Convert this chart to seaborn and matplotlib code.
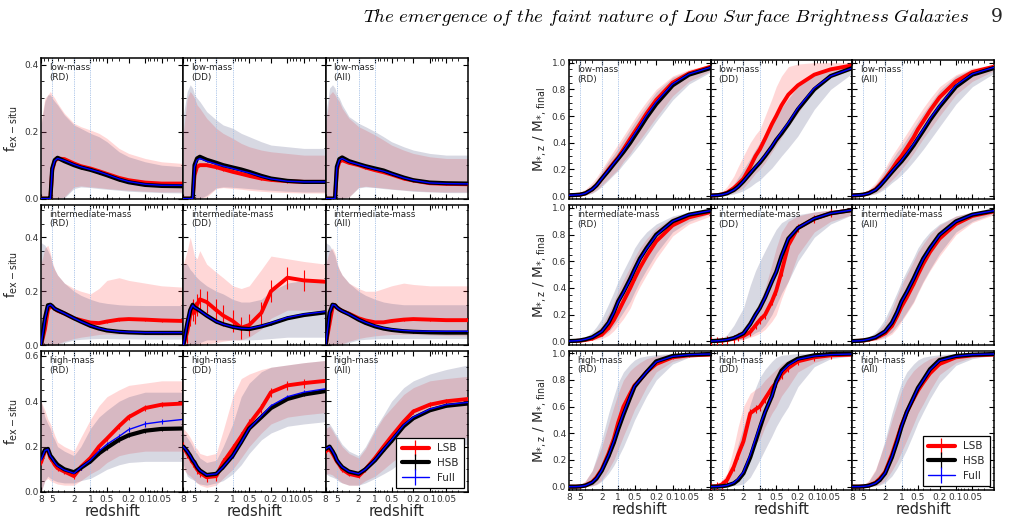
"""
Ex-situ fraction and stellar mass assembly of LSB / HSB galaxies vs redshift.
Two 3x3 grids: rows = mass bins, columns = RD / DD / All samples.
"""

import numpy as np
import matplotlib
matplotlib.use("Agg")
import matplotlib.pyplot as plt
from matplotlib.lines import Line2D
from matplotlib.ticker import FixedLocator, MultipleLocator, LogLocator, NullFormatter
import seaborn as sns

# ---------------------------------------------------------------- data
z_fex = [8, 6.8, 6, 5.4, 5, 4.5, 4, 3, 2, 1.5, 1, 0.7, 0.5, 0.3, 0.2, 0.1, 0.05, 0.02]
z_mass = [8, 6, 5, 4, 3, 2.5, 2, 1.5, 1.2, 1, 0.8, 0.6, 0.5, 0.4, 0.3, 0.2, 0.1, 0.05, 0.02]

xtick_values = [8, 5, 2, 1, 0.5, 0.2, 0.1, 0.05]
xtick_labels = ['8', '5', '2', '1', '0.5', '0.2', '0.1', '0.05']
ref_redshifts = [5, 2, 1]

mass_bins = ['low-mass', 'intermediate-mass', 'high-mass']
samples = ['RD', 'DD', 'All']
legend_labels = ['LSB', 'HSB', 'Full']

# --- f_ex-situ, low-mass
fex_low_rd_lsb = [0, 0, 0, 0, 0.085, 0.112, 0.12, 0.118, 0.105, 0.097, 0.09, 0.082, 0.074, 0.062, 0.055, 0.048, 0.045, 0.045]
fex_low_rd_hsb = [0, 0, 0, 0, 0.09, 0.115, 0.122, 0.112, 0.1, 0.093, 0.086, 0.078, 0.07, 0.057, 0.049, 0.041, 0.038, 0.037]
fex_low_rd_full = [0, 0, 0, 0, 0.088, 0.113, 0.12, 0.114, 0.102, 0.095, 0.087, 0.08, 0.072, 0.059, 0.051, 0.043, 0.04, 0.04]
fex_low_rd_lsb_lo = [0, 0, 0, 0, 0, 0, 0, 0.005, 0.035, 0.038, 0.035, 0.033, 0.03, 0.027, 0.025, 0.022, 0.02, 0.02]
fex_low_rd_lsb_hi = [0.23, 0.3, 0.31, 0.32, 0.31, 0.3, 0.285, 0.255, 0.225, 0.215, 0.205, 0.195, 0.18, 0.15, 0.135, 0.12, 0.11, 0.105]
fex_low_rd_hsb_lo = [0, 0, 0, 0, 0, 0, 0, 0.002, 0.03, 0.035, 0.033, 0.03, 0.028, 0.025, 0.022, 0.02, 0.018, 0.017]
fex_low_rd_hsb_hi = [0.22, 0.29, 0.31, 0.31, 0.3, 0.29, 0.28, 0.25, 0.22, 0.21, 0.195, 0.185, 0.17, 0.14, 0.125, 0.11, 0.1, 0.095]

fex_low_dd_lsb = [0, 0, 0, 0, 0.07, 0.095, 0.1, 0.1, 0.094, 0.088, 0.08, 0.074, 0.068, 0.06, 0.056, 0.052, 0.05, 0.05]
fex_low_dd_hsb = [0, 0, 0, 0, 0.1, 0.12, 0.125, 0.116, 0.107, 0.1, 0.093, 0.087, 0.08, 0.068, 0.06, 0.053, 0.05, 0.05]
fex_low_dd_full = [0, 0, 0, 0, 0.095, 0.115, 0.12, 0.112, 0.103, 0.097, 0.09, 0.083, 0.077, 0.066, 0.059, 0.052, 0.05, 0.05]
fex_low_dd_lsb_lo = [0, 0, 0, 0, 0, 0, 0, 0.005, 0.03, 0.033, 0.03, 0.028, 0.025, 0.022, 0.02, 0.018, 0.017, 0.017]
fex_low_dd_lsb_hi = [0.2, 0.3, 0.32, 0.31, 0.3, 0.28, 0.27, 0.24, 0.21, 0.195, 0.18, 0.165, 0.155, 0.145, 0.14, 0.135, 0.13, 0.13]
fex_low_dd_hsb_lo = [0, 0, 0, 0, 0, 0, 0, 0.01, 0.032, 0.035, 0.034, 0.032, 0.03, 0.027, 0.025, 0.022, 0.02, 0.02]
fex_low_dd_hsb_hi = [0.25, 0.32, 0.34, 0.33, 0.31, 0.3, 0.29, 0.26, 0.235, 0.22, 0.21, 0.195, 0.185, 0.17, 0.16, 0.155, 0.15, 0.15]

fex_low_all_lsb = [0, 0, 0, 0, 0.085, 0.11, 0.115, 0.107, 0.1, 0.093, 0.085, 0.079, 0.072, 0.06, 0.054, 0.046, 0.044, 0.043]
fex_low_all_hsb = [0, 0, 0, 0, 0.095, 0.118, 0.123, 0.112, 0.103, 0.097, 0.09, 0.084, 0.075, 0.063, 0.055, 0.048, 0.046, 0.045]
fex_low_all_full = [0, 0, 0, 0, 0.092, 0.115, 0.12, 0.11, 0.102, 0.096, 0.088, 0.082, 0.074, 0.062, 0.055, 0.047, 0.045, 0.044]
fex_low_all_lsb_lo = [0, 0, 0, 0, 0, 0, 0, 0.005, 0.034, 0.037, 0.034, 0.032, 0.029, 0.026, 0.024, 0.021, 0.02, 0.02]
fex_low_all_lsb_hi = [0.22, 0.31, 0.32, 0.31, 0.3, 0.29, 0.27, 0.24, 0.215, 0.205, 0.19, 0.175, 0.16, 0.145, 0.135, 0.125, 0.12, 0.12]
fex_low_all_hsb_lo = [0, 0, 0, 0, 0, 0, 0, 0.005, 0.032, 0.035, 0.033, 0.03, 0.028, 0.025, 0.022, 0.02, 0.018, 0.018]
fex_low_all_hsb_hi = [0.25, 0.33, 0.34, 0.33, 0.31, 0.3, 0.28, 0.245, 0.225, 0.215, 0.2, 0.185, 0.17, 0.155, 0.145, 0.135, 0.13, 0.13]

# --- f_ex-situ, intermediate-mass
fex_int_rd_lsb = [0, 0.06, 0.13, 0.148, 0.142, 0.135, 0.128, 0.118, 0.1, 0.093, 0.084, 0.082, 0.088, 0.095, 0.097, 0.095, 0.092, 0.09]
fex_int_rd_hsb = [0, 0.1, 0.148, 0.15, 0.145, 0.135, 0.13, 0.118, 0.1, 0.088, 0.072, 0.062, 0.055, 0.05, 0.048, 0.046, 0.046, 0.046]
fex_int_rd_full = [0, 0.095, 0.145, 0.15, 0.145, 0.135, 0.13, 0.118, 0.1, 0.088, 0.073, 0.063, 0.056, 0.051, 0.049, 0.047, 0.047, 0.047]
fex_int_rd_lsb_lo = [0, 0, 0, 0, 0, 0, 0.005, 0.015, 0.025, 0.03, 0.035, 0.04, 0.042, 0.04, 0.04, 0.038, 0.036, 0.035]
fex_int_rd_lsb_hi = [0.3, 0.36, 0.37, 0.34, 0.31, 0.28, 0.26, 0.23, 0.21, 0.2, 0.19, 0.21, 0.24, 0.25, 0.24, 0.23, 0.22, 0.215]
fex_int_rd_hsb_lo = [0, 0, 0, 0, 0, 0, 0, 0.01, 0.02, 0.022, 0.024, 0.025, 0.025, 0.024, 0.024, 0.023, 0.023, 0.023]
fex_int_rd_hsb_hi = [0.38, 0.37, 0.35, 0.33, 0.3, 0.28, 0.26, 0.23, 0.2, 0.185, 0.17, 0.16, 0.155, 0.15, 0.148, 0.147, 0.147, 0.147]

fex_int_dd_lsb = [0, 0.05, 0.11, 0.13, 0.12, 0.15, 0.17, 0.16, 0.13, 0.11, 0.09, 0.065, 0.075, 0.12, 0.2, 0.25, 0.24, 0.235]
fex_int_dd_hsb = [0, 0.08, 0.13, 0.15, 0.14, 0.135, 0.128, 0.11, 0.088, 0.078, 0.068, 0.062, 0.06, 0.07, 0.08, 0.1, 0.112, 0.122]
fex_int_dd_full = [0, 0.08, 0.13, 0.148, 0.14, 0.135, 0.128, 0.11, 0.088, 0.078, 0.068, 0.063, 0.062, 0.072, 0.083, 0.103, 0.115, 0.125]
fex_int_dd_lsb_lo = [0, 0, 0, 0, 0, 0, 0, 0.005, 0.01, 0.015, 0.02, 0.02, 0.03, 0.06, 0.1, 0.13, 0.13, 0.13]
fex_int_dd_lsb_hi = [0.3, 0.35, 0.4, 0.36, 0.33, 0.32, 0.35, 0.3, 0.27, 0.25, 0.22, 0.21, 0.22, 0.28, 0.33, 0.32, 0.31, 0.3]
fex_int_dd_hsb_lo = [0, 0, 0, 0, 0, 0, 0.01, 0.02, 0.02, 0.02, 0.02, 0.02, 0.02, 0.022, 0.025, 0.03, 0.03, 0.03]
fex_int_dd_hsb_hi = [0.3, 0.3, 0.28, 0.27, 0.26, 0.25, 0.24, 0.22, 0.2, 0.19, 0.17, 0.16, 0.16, 0.17, 0.2, 0.23, 0.24, 0.24]

fex_int_all_lsb = [0, 0.08, 0.14, 0.148, 0.14, 0.133, 0.127, 0.117, 0.1, 0.092, 0.085, 0.085, 0.09, 0.095, 0.097, 0.095, 0.093, 0.093]
fex_int_all_hsb = [0, 0.12, 0.15, 0.148, 0.14, 0.133, 0.127, 0.115, 0.095, 0.083, 0.07, 0.062, 0.057, 0.052, 0.05, 0.048, 0.047, 0.047]
fex_int_all_full = [0, 0.12, 0.15, 0.148, 0.14, 0.133, 0.127, 0.115, 0.096, 0.085, 0.072, 0.064, 0.059, 0.055, 0.053, 0.052, 0.052, 0.052]
fex_int_all_lsb_lo = [0, 0, 0, 0, 0, 0, 0.005, 0.015, 0.025, 0.03, 0.035, 0.038, 0.04, 0.04, 0.04, 0.038, 0.036, 0.035]
fex_int_all_lsb_hi = [0.3, 0.35, 0.36, 0.34, 0.31, 0.28, 0.26, 0.23, 0.21, 0.2, 0.2, 0.21, 0.22, 0.23, 0.225, 0.22, 0.22, 0.22]
fex_int_all_hsb_lo = [0, 0, 0, 0, 0, 0, 0, 0.01, 0.02, 0.022, 0.024, 0.025, 0.025, 0.025, 0.025, 0.025, 0.025, 0.025]
fex_int_all_hsb_hi = [0.38, 0.37, 0.35, 0.33, 0.3, 0.28, 0.26, 0.23, 0.2, 0.185, 0.17, 0.16, 0.155, 0.15, 0.15, 0.15, 0.15, 0.15]

# --- f_ex-situ, high-mass
fex_high_rd_lsb = [0.13, 0.18, 0.185, 0.15, 0.14, 0.12, 0.105, 0.09, 0.07, 0.11, 0.15, 0.2, 0.235, 0.29, 0.33, 0.37, 0.385, 0.39]
fex_high_rd_hsb = [0.15, 0.185, 0.19, 0.16, 0.15, 0.135, 0.12, 0.1, 0.087, 0.106, 0.135, 0.17, 0.195, 0.23, 0.25, 0.27, 0.278, 0.28]
fex_high_rd_full = [0.14, 0.183, 0.188, 0.158, 0.148, 0.13, 0.115, 0.097, 0.082, 0.108, 0.14, 0.18, 0.21, 0.245, 0.275, 0.3, 0.31, 0.32]
fex_high_rd_lsb_lo = [0.0, 0.05, 0.06, 0.05, 0.045, 0.04, 0.035, 0.03, 0.03, 0.05, 0.08, 0.1, 0.13, 0.16, 0.17, 0.18, 0.18, 0.18]
fex_high_rd_lsb_hi = [0.4, 0.36, 0.32, 0.3, 0.28, 0.25, 0.22, 0.2, 0.18, 0.24, 0.32, 0.38, 0.42, 0.45, 0.47, 0.48, 0.49, 0.49]
fex_high_rd_hsb_lo = [0.0, 0.05, 0.07, 0.06, 0.055, 0.05, 0.045, 0.04, 0.04, 0.05, 0.06, 0.08, 0.1, 0.12, 0.13, 0.135, 0.135, 0.135]
fex_high_rd_hsb_hi = [0.4, 0.33, 0.3, 0.28, 0.25, 0.23, 0.2, 0.18, 0.16, 0.2, 0.28, 0.33, 0.36, 0.4, 0.42, 0.44, 0.44, 0.44]

fex_high_dd_lsb = [0.2, 0.17, 0.15, 0.13, 0.12, 0.1, 0.085, 0.065, 0.07, 0.13, 0.19, 0.245, 0.3, 0.37, 0.44, 0.47, 0.48, 0.49]
fex_high_dd_hsb = [0.2, 0.18, 0.16, 0.14, 0.13, 0.11, 0.095, 0.075, 0.08, 0.11, 0.16, 0.22, 0.28, 0.33, 0.37, 0.41, 0.43, 0.445]
fex_high_dd_full = [0.2, 0.18, 0.16, 0.14, 0.13, 0.11, 0.095, 0.075, 0.08, 0.11, 0.16, 0.22, 0.28, 0.335, 0.38, 0.42, 0.44, 0.455]
fex_high_dd_lsb_lo = [0.1, 0.08, 0.07, 0.06, 0.05, 0.04, 0.03, 0.02, 0.03, 0.06, 0.1, 0.15, 0.2, 0.26, 0.3, 0.33, 0.34, 0.35]
fex_high_dd_lsb_hi = [0.28, 0.26, 0.24, 0.22, 0.2, 0.19, 0.17, 0.16, 0.17, 0.27, 0.42, 0.5, 0.52, 0.54, 0.55, 0.56, 0.57, 0.58]
fex_high_dd_hsb_lo = [0.12, 0.07, 0.06, 0.055, 0.05, 0.04, 0.035, 0.03, 0.04, 0.05, 0.08, 0.12, 0.17, 0.23, 0.26, 0.29, 0.3, 0.31]
fex_high_dd_hsb_hi = [0.26, 0.24, 0.22, 0.2, 0.18, 0.17, 0.15, 0.13, 0.14, 0.2, 0.3, 0.42, 0.48, 0.53, 0.55, 0.56, 0.57, 0.58]

fex_high_all_lsb = [0.18, 0.19, 0.17, 0.15, 0.135, 0.12, 0.1, 0.08, 0.07, 0.1, 0.15, 0.2, 0.245, 0.31, 0.355, 0.385, 0.4, 0.41]
fex_high_all_hsb = [0.19, 0.2, 0.18, 0.16, 0.14, 0.125, 0.11, 0.09, 0.08, 0.1, 0.14, 0.185, 0.225, 0.29, 0.325, 0.36, 0.38, 0.39]
fex_high_all_full = [0.19, 0.2, 0.18, 0.16, 0.14, 0.125, 0.11, 0.09, 0.08, 0.1, 0.142, 0.188, 0.23, 0.295, 0.33, 0.365, 0.385, 0.395]
fex_high_all_lsb_lo = [0.08, 0.08, 0.075, 0.065, 0.06, 0.05, 0.04, 0.03, 0.03, 0.05, 0.07, 0.1, 0.13, 0.17, 0.2, 0.22, 0.23, 0.24]
fex_high_all_lsb_hi = [0.28, 0.29, 0.27, 0.25, 0.24, 0.22, 0.2, 0.17, 0.15, 0.19, 0.27, 0.33, 0.37, 0.43, 0.46, 0.49, 0.5, 0.51]
fex_high_all_hsb_lo = [0.08, 0.07, 0.065, 0.06, 0.055, 0.045, 0.04, 0.03, 0.03, 0.04, 0.06, 0.08, 0.1, 0.14, 0.17, 0.19, 0.2, 0.21]
fex_high_all_hsb_hi = [0.3, 0.3, 0.28, 0.26, 0.25, 0.23, 0.21, 0.18, 0.16, 0.2, 0.28, 0.34, 0.4, 0.46, 0.49, 0.52, 0.54, 0.56]

# --- M*,z / M*,final, low-mass
mass_low_rd_lsb = [0.005, 0.008, 0.01, 0.02, 0.05, 0.08, 0.13, 0.2, 0.25, 0.29, 0.35, 0.43, 0.48, 0.54, 0.62, 0.72, 0.85, 0.92, 0.97]
mass_low_rd_hsb = [0.005, 0.008, 0.01, 0.02, 0.05, 0.08, 0.13, 0.19, 0.24, 0.28, 0.33, 0.4, 0.45, 0.51, 0.59, 0.69, 0.83, 0.91, 0.96]
mass_low_rd_full = [0.005, 0.008, 0.01, 0.02, 0.05, 0.08, 0.13, 0.195, 0.245, 0.285, 0.34, 0.415, 0.465, 0.525, 0.605, 0.705, 0.84, 0.915, 0.965]
mass_low_rd_lsb_lo = [0, 0, 0.004, 0.008, 0.025, 0.045, 0.08, 0.13, 0.17, 0.2, 0.26, 0.32, 0.37, 0.42, 0.49, 0.59, 0.75, 0.86, 0.94]
mass_low_rd_lsb_hi = [0.01, 0.015, 0.03, 0.05, 0.1, 0.14, 0.2, 0.28, 0.34, 0.39, 0.45, 0.53, 0.58, 0.64, 0.71, 0.8, 0.9, 0.95, 0.985]
mass_low_rd_hsb_lo = [0, 0, 0.003, 0.006, 0.02, 0.04, 0.07, 0.12, 0.16, 0.19, 0.24, 0.3, 0.34, 0.39, 0.46, 0.56, 0.72, 0.84, 0.93]
mass_low_rd_hsb_hi = [0.008, 0.012, 0.025, 0.04, 0.085, 0.12, 0.18, 0.26, 0.31, 0.36, 0.42, 0.5, 0.55, 0.61, 0.68, 0.78, 0.89, 0.94, 0.98]

mass_low_dd_lsb = [0.003, 0.006, 0.012, 0.025, 0.06, 0.09, 0.13, 0.22, 0.3, 0.35, 0.43, 0.54, 0.6, 0.68, 0.76, 0.83, 0.91, 0.95, 0.98]
mass_low_dd_hsb = [0.003, 0.006, 0.01, 0.02, 0.045, 0.07, 0.11, 0.17, 0.215, 0.25, 0.3, 0.37, 0.42, 0.47, 0.54, 0.65, 0.8, 0.9, 0.96]
mass_low_dd_full = [0.003, 0.006, 0.01, 0.02, 0.045, 0.07, 0.112, 0.173, 0.22, 0.255, 0.305, 0.375, 0.425, 0.48, 0.55, 0.66, 0.81, 0.9, 0.96]
mass_low_dd_lsb_lo = [0, 0.002, 0.005, 0.01, 0.025, 0.04, 0.06, 0.12, 0.17, 0.2, 0.25, 0.33, 0.38, 0.44, 0.52, 0.62, 0.8, 0.89, 0.95]
mass_low_dd_lsb_hi = [0.005, 0.015, 0.03, 0.07, 0.15, 0.22, 0.3, 0.4, 0.46, 0.5, 0.6, 0.73, 0.82, 0.9, 0.97, 0.99, 1.0, 1.0, 1.0]
mass_low_dd_hsb_lo = [0, 0, 0.003, 0.006, 0.015, 0.025, 0.04, 0.07, 0.1, 0.12, 0.16, 0.21, 0.25, 0.3, 0.36, 0.45, 0.65, 0.8, 0.92]
mass_low_dd_hsb_hi = [0.005, 0.01, 0.02, 0.04, 0.09, 0.14, 0.2, 0.28, 0.35, 0.4, 0.47, 0.55, 0.6, 0.66, 0.73, 0.82, 0.92, 0.96, 0.985]

mass_low_all_lsb = [0.004, 0.007, 0.01, 0.022, 0.05, 0.085, 0.13, 0.2, 0.26, 0.3, 0.36, 0.44, 0.5, 0.56, 0.64, 0.74, 0.86, 0.93, 0.97]
mass_low_all_hsb = [0.004, 0.007, 0.01, 0.02, 0.045, 0.075, 0.12, 0.18, 0.225, 0.26, 0.31, 0.38, 0.43, 0.49, 0.57, 0.67, 0.82, 0.91, 0.96]
mass_low_all_full = [0.004, 0.007, 0.01, 0.02, 0.046, 0.077, 0.122, 0.185, 0.23, 0.267, 0.32, 0.39, 0.44, 0.5, 0.58, 0.68, 0.83, 0.915, 0.965]
mass_low_all_lsb_lo = [0, 0, 0.004, 0.008, 0.022, 0.04, 0.07, 0.12, 0.16, 0.2, 0.25, 0.32, 0.37, 0.43, 0.5, 0.6, 0.76, 0.86, 0.94]
mass_low_all_lsb_hi = [0.008, 0.015, 0.03, 0.05, 0.1, 0.15, 0.21, 0.3, 0.36, 0.41, 0.47, 0.55, 0.6, 0.66, 0.73, 0.82, 0.91, 0.96, 0.985]
mass_low_all_hsb_lo = [0, 0, 0.003, 0.006, 0.015, 0.03, 0.055, 0.1, 0.13, 0.16, 0.2, 0.26, 0.3, 0.35, 0.42, 0.52, 0.69, 0.82, 0.92]
mass_low_all_hsb_hi = [0.008, 0.012, 0.025, 0.04, 0.085, 0.13, 0.19, 0.27, 0.33, 0.37, 0.43, 0.51, 0.56, 0.62, 0.69, 0.79, 0.9, 0.95, 0.98]

# --- M*,z / M*,final, intermediate-mass
mass_int_rd_lsb = [0.002, 0.003, 0.005, 0.01, 0.02, 0.035, 0.05, 0.1, 0.16, 0.22, 0.3, 0.4, 0.47, 0.55, 0.64, 0.75, 0.87, 0.93, 0.97]
mass_int_rd_hsb = [0.002, 0.004, 0.007, 0.015, 0.03, 0.05, 0.075, 0.14, 0.22, 0.3, 0.37, 0.47, 0.54, 0.62, 0.7, 0.8, 0.9, 0.95, 0.98]
mass_int_rd_full = [0.002, 0.004, 0.007, 0.015, 0.03, 0.05, 0.074, 0.138, 0.215, 0.295, 0.365, 0.465, 0.535, 0.615, 0.695, 0.795, 0.9, 0.95, 0.98]
mass_int_rd_lsb_lo = [0, 0.001, 0.002, 0.004, 0.007, 0.012, 0.02, 0.045, 0.08, 0.12, 0.17, 0.25, 0.33, 0.41, 0.5, 0.62, 0.79, 0.88, 0.94]
mass_int_rd_lsb_hi = [0.003, 0.006, 0.012, 0.025, 0.05, 0.08, 0.12, 0.21, 0.3, 0.38, 0.46, 0.56, 0.63, 0.7, 0.77, 0.85, 0.93, 0.96, 0.985]
mass_int_rd_hsb_lo = [0, 0.001, 0.002, 0.005, 0.01, 0.02, 0.035, 0.07, 0.12, 0.16, 0.22, 0.3, 0.37, 0.45, 0.54, 0.66, 0.82, 0.9, 0.96]
mass_int_rd_hsb_hi = [0.004, 0.008, 0.015, 0.03, 0.07, 0.11, 0.17, 0.28, 0.37, 0.45, 0.53, 0.63, 0.7, 0.76, 0.82, 0.88, 0.94, 0.97, 0.99]

mass_int_dd_lsb = [0.002, 0.004, 0.006, 0.01, 0.02, 0.03, 0.04, 0.07, 0.12, 0.16, 0.2, 0.3, 0.38, 0.52, 0.72, 0.85, 0.92, 0.96, 0.985]
mass_int_dd_hsb = [0.002, 0.004, 0.007, 0.012, 0.025, 0.04, 0.06, 0.13, 0.2, 0.25, 0.33, 0.45, 0.52, 0.64, 0.77, 0.85, 0.92, 0.96, 0.985]
mass_int_dd_full = [0.002, 0.004, 0.007, 0.012, 0.025, 0.04, 0.06, 0.128, 0.198, 0.248, 0.328, 0.448, 0.52, 0.64, 0.77, 0.852, 0.922, 0.96, 0.985]
mass_int_dd_lsb_lo = [0, 0.001, 0.002, 0.004, 0.007, 0.01, 0.015, 0.03, 0.045, 0.06, 0.09, 0.15, 0.2, 0.32, 0.45, 0.65, 0.82, 0.9, 0.95]
mass_int_dd_lsb_hi = [0.003, 0.006, 0.01, 0.02, 0.04, 0.07, 0.1, 0.17, 0.24, 0.3, 0.4, 0.58, 0.7, 0.82, 0.9, 0.94, 0.97, 0.985, 0.99]
mass_int_dd_hsb_lo = [0, 0.001, 0.002, 0.004, 0.007, 0.01, 0.015, 0.04, 0.065, 0.08, 0.12, 0.2, 0.27, 0.36, 0.45, 0.6, 0.78, 0.88, 0.95]
mass_int_dd_hsb_hi = [0.004, 0.01, 0.02, 0.05, 0.12, 0.18, 0.25, 0.42, 0.53, 0.6, 0.68, 0.78, 0.84, 0.89, 0.92, 0.95, 0.97, 0.985, 0.99]

mass_int_all_lsb = [0.002, 0.004, 0.006, 0.012, 0.025, 0.04, 0.06, 0.115, 0.19, 0.26, 0.33, 0.43, 0.5, 0.58, 0.67, 0.77, 0.88, 0.94, 0.975]
mass_int_all_hsb = [0.002, 0.004, 0.007, 0.015, 0.03, 0.05, 0.075, 0.14, 0.22, 0.3, 0.37, 0.47, 0.54, 0.62, 0.7, 0.8, 0.9, 0.95, 0.98]
mass_int_all_full = [0.002, 0.004, 0.007, 0.015, 0.03, 0.05, 0.074, 0.138, 0.217, 0.296, 0.366, 0.466, 0.536, 0.616, 0.697, 0.797, 0.898, 0.95, 0.98]
mass_int_all_lsb_lo = [0, 0.001, 0.002, 0.004, 0.008, 0.014, 0.025, 0.055, 0.1, 0.15, 0.21, 0.29, 0.36, 0.44, 0.53, 0.64, 0.8, 0.89, 0.95]
mass_int_all_lsb_hi = [0.003, 0.007, 0.013, 0.027, 0.055, 0.09, 0.14, 0.24, 0.34, 0.42, 0.5, 0.6, 0.67, 0.73, 0.8, 0.87, 0.94, 0.97, 0.985]
mass_int_all_hsb_lo = [0, 0.001, 0.002, 0.005, 0.01, 0.02, 0.035, 0.07, 0.12, 0.16, 0.22, 0.3, 0.37, 0.45, 0.54, 0.66, 0.82, 0.9, 0.96]
mass_int_all_hsb_hi = [0.004, 0.008, 0.015, 0.03, 0.07, 0.11, 0.17, 0.28, 0.37, 0.45, 0.53, 0.63, 0.7, 0.76, 0.82, 0.88, 0.94, 0.97, 0.99]

# --- M*,z / M*,final, high-mass
mass_high_rd_lsb = [0, 0, 0.002, 0.009, 0.035, 0.07, 0.13, 0.25, 0.36, 0.48, 0.6, 0.7, 0.76, 0.8, 0.86, 0.92, 0.97, 0.985, 0.99]
mass_high_rd_hsb = [0, 0, 0.002, 0.008, 0.03, 0.06, 0.12, 0.23, 0.33, 0.43, 0.54, 0.67, 0.75, 0.8, 0.86, 0.94, 0.98, 0.99, 0.995]
mass_high_rd_full = [0, 0, 0.002, 0.008, 0.032, 0.063, 0.123, 0.235, 0.34, 0.44, 0.55, 0.68, 0.755, 0.8, 0.86, 0.935, 0.977, 0.99, 0.995]
mass_high_rd_lsb_lo = [0, 0, 0, 0.002, 0.008, 0.02, 0.05, 0.13, 0.2, 0.28, 0.38, 0.5, 0.58, 0.65, 0.75, 0.86, 0.94, 0.97, 0.985]
mass_high_rd_lsb_hi = [0.001, 0.004, 0.012, 0.045, 0.12, 0.2, 0.3, 0.47, 0.6, 0.7, 0.8, 0.87, 0.9, 0.93, 0.96, 0.98, 0.995, 1.0, 1.0]
mass_high_rd_hsb_lo = [0, 0, 0, 0.001, 0.005, 0.015, 0.04, 0.1, 0.16, 0.22, 0.3, 0.42, 0.5, 0.58, 0.68, 0.8, 0.92, 0.97, 0.985]
mass_high_rd_hsb_hi = [0.001, 0.004, 0.01, 0.04, 0.12, 0.22, 0.35, 0.55, 0.68, 0.78, 0.86, 0.92, 0.95, 0.97, 0.98, 0.99, 1.0, 1.0, 1.0]

mass_high_dd_lsb = [0, 0.005, 0.015, 0.05, 0.15, 0.24, 0.34, 0.55, 0.58, 0.6, 0.66, 0.74, 0.78, 0.84, 0.89, 0.94, 0.97, 0.985, 0.99]
mass_high_dd_hsb = [0, 0, 0.003, 0.008, 0.025, 0.05, 0.1, 0.22, 0.34, 0.44, 0.56, 0.68, 0.79, 0.87, 0.92, 0.96, 0.985, 0.995, 0.998]
mass_high_dd_full = [0, 0.001, 0.004, 0.01, 0.03, 0.06, 0.11, 0.24, 0.36, 0.46, 0.56, 0.68, 0.78, 0.86, 0.91, 0.955, 0.98, 0.99, 0.995]
mass_high_dd_lsb_lo = [0, 0, 0.002, 0.008, 0.03, 0.06, 0.1, 0.3, 0.33, 0.35, 0.45, 0.55, 0.6, 0.68, 0.75, 0.86, 0.93, 0.97, 0.98]
mass_high_dd_lsb_hi = [0.002, 0.02, 0.05, 0.1, 0.3, 0.45, 0.6, 0.7, 0.73, 0.75, 0.8, 0.85, 0.88, 0.92, 0.95, 0.98, 0.99, 1.0, 1.0]
mass_high_dd_hsb_lo = [0, 0, 0, 0.002, 0.007, 0.012, 0.02, 0.07, 0.14, 0.2, 0.28, 0.38, 0.45, 0.52, 0.6, 0.75, 0.9, 0.96, 0.98]
mass_high_dd_hsb_hi = [0.002, 0.01, 0.025, 0.06, 0.2, 0.32, 0.45, 0.62, 0.74, 0.82, 0.88, 0.94, 0.97, 0.985, 0.99, 1.0, 1.0, 1.0, 1.0]

mass_high_all_lsb = [0, 0, 0.002, 0.008, 0.03, 0.06, 0.11, 0.24, 0.36, 0.46, 0.56, 0.66, 0.72, 0.78, 0.85, 0.92, 0.97, 0.985, 0.99]
mass_high_all_hsb = [0, 0, 0.002, 0.007, 0.025, 0.05, 0.1, 0.22, 0.34, 0.45, 0.56, 0.67, 0.74, 0.8, 0.88, 0.95, 0.98, 0.99, 0.995]
mass_high_all_full = [0, 0, 0.002, 0.007, 0.026, 0.052, 0.102, 0.225, 0.345, 0.452, 0.56, 0.668, 0.737, 0.797, 0.875, 0.945, 0.978, 0.99, 0.995]
mass_high_all_lsb_lo = [0, 0, 0, 0.002, 0.008, 0.02, 0.045, 0.12, 0.19, 0.26, 0.35, 0.47, 0.55, 0.62, 0.72, 0.84, 0.93, 0.97, 0.985]
mass_high_all_lsb_hi = [0.001, 0.004, 0.012, 0.045, 0.13, 0.22, 0.33, 0.5, 0.62, 0.72, 0.8, 0.87, 0.9, 0.93, 0.96, 0.98, 0.995, 1.0, 1.0]
mass_high_all_hsb_lo = [0, 0, 0, 0.001, 0.005, 0.012, 0.03, 0.08, 0.14, 0.2, 0.28, 0.4, 0.48, 0.56, 0.66, 0.78, 0.91, 0.96, 0.985]
mass_high_all_hsb_hi = [0.001, 0.004, 0.01, 0.04, 0.12, 0.22, 0.35, 0.55, 0.68, 0.78, 0.86, 0.92, 0.95, 0.97, 0.98, 0.99, 1.0, 1.0, 1.0]

# error-bar half sizes per panel (row-major: low RD, low DD, low All, int RD, ...)
fex_err_lsb = [0.003, 0.004, 0.003, 0.004, 0.04, 0.004, 0.012, 0.02, 0.01]
fex_err_hsb = [0.003, 0.003, 0.002, 0.003, 0.004, 0.003, 0.008, 0.006, 0.005]
fex_err_full = [0.002, 0.002, 0.002, 0.002, 0.004, 0.002, 0.012, 0.008, 0.006]
mass_err_lsb = [0.005, 0.005, 0.004, 0.008, 0.03, 0.006, 0.01, 0.03, 0.008]
mass_err_hsb = [0.003, 0.003, 0.003, 0.004, 0.004, 0.003, 0.006, 0.006, 0.005]
mass_err_full = [0.003, 0.003, 0.003, 0.003, 0.004, 0.003, 0.006, 0.008, 0.005]

fex_panels = [
    (fex_low_rd_lsb, fex_low_rd_hsb, fex_low_rd_full, fex_low_rd_lsb_lo, fex_low_rd_lsb_hi, fex_low_rd_hsb_lo, fex_low_rd_hsb_hi),
    (fex_low_dd_lsb, fex_low_dd_hsb, fex_low_dd_full, fex_low_dd_lsb_lo, fex_low_dd_lsb_hi, fex_low_dd_hsb_lo, fex_low_dd_hsb_hi),
    (fex_low_all_lsb, fex_low_all_hsb, fex_low_all_full, fex_low_all_lsb_lo, fex_low_all_lsb_hi, fex_low_all_hsb_lo, fex_low_all_hsb_hi),
    (fex_int_rd_lsb, fex_int_rd_hsb, fex_int_rd_full, fex_int_rd_lsb_lo, fex_int_rd_lsb_hi, fex_int_rd_hsb_lo, fex_int_rd_hsb_hi),
    (fex_int_dd_lsb, fex_int_dd_hsb, fex_int_dd_full, fex_int_dd_lsb_lo, fex_int_dd_lsb_hi, fex_int_dd_hsb_lo, fex_int_dd_hsb_hi),
    (fex_int_all_lsb, fex_int_all_hsb, fex_int_all_full, fex_int_all_lsb_lo, fex_int_all_lsb_hi, fex_int_all_hsb_lo, fex_int_all_hsb_hi),
    (fex_high_rd_lsb, fex_high_rd_hsb, fex_high_rd_full, fex_high_rd_lsb_lo, fex_high_rd_lsb_hi, fex_high_rd_hsb_lo, fex_high_rd_hsb_hi),
    (fex_high_dd_lsb, fex_high_dd_hsb, fex_high_dd_full, fex_high_dd_lsb_lo, fex_high_dd_lsb_hi, fex_high_dd_hsb_lo, fex_high_dd_hsb_hi),
    (fex_high_all_lsb, fex_high_all_hsb, fex_high_all_full, fex_high_all_lsb_lo, fex_high_all_lsb_hi, fex_high_all_hsb_lo, fex_high_all_hsb_hi),
]
mass_panels = [
    (mass_low_rd_lsb, mass_low_rd_hsb, mass_low_rd_full, mass_low_rd_lsb_lo, mass_low_rd_lsb_hi, mass_low_rd_hsb_lo, mass_low_rd_hsb_hi),
    (mass_low_dd_lsb, mass_low_dd_hsb, mass_low_dd_full, mass_low_dd_lsb_lo, mass_low_dd_lsb_hi, mass_low_dd_hsb_lo, mass_low_dd_hsb_hi),
    (mass_low_all_lsb, mass_low_all_hsb, mass_low_all_full, mass_low_all_lsb_lo, mass_low_all_lsb_hi, mass_low_all_hsb_lo, mass_low_all_hsb_hi),
    (mass_int_rd_lsb, mass_int_rd_hsb, mass_int_rd_full, mass_int_rd_lsb_lo, mass_int_rd_lsb_hi, mass_int_rd_hsb_lo, mass_int_rd_hsb_hi),
    (mass_int_dd_lsb, mass_int_dd_hsb, mass_int_dd_full, mass_int_dd_lsb_lo, mass_int_dd_lsb_hi, mass_int_dd_hsb_lo, mass_int_dd_hsb_hi),
    (mass_int_all_lsb, mass_int_all_hsb, mass_int_all_full, mass_int_all_lsb_lo, mass_int_all_lsb_hi, mass_int_all_hsb_lo, mass_int_all_hsb_hi),
    (mass_high_rd_lsb, mass_high_rd_hsb, mass_high_rd_full, mass_high_rd_lsb_lo, mass_high_rd_lsb_hi, mass_high_rd_hsb_lo, mass_high_rd_hsb_hi),
    (mass_high_dd_lsb, mass_high_dd_hsb, mass_high_dd_full, mass_high_dd_lsb_lo, mass_high_dd_lsb_hi, mass_high_dd_hsb_lo, mass_high_dd_hsb_hi),
    (mass_high_all_lsb, mass_high_all_hsb, mass_high_all_full, mass_high_all_lsb_lo, mass_high_all_lsb_hi, mass_high_all_hsb_lo, mass_high_all_hsb_hi),
]

# ---------------------------------------------------------------- style
sns.set_theme(style="ticks")
plt.rcParams['font.family'] = ['DejaVu Sans']
plt.rcParams['axes.edgecolor'] = 'black'
plt.rcParams['axes.linewidth'] = 1.1

LSB_COLOR = 'red'
HSB_COLOR = 'black'
FULL_COLOR = 'blue'
LSB_BAND = '#ff3b3b'
HSB_BAND = '#383d72'
REF_LINE = '#a6c1e6'


def draw_panel(ax, z, series, errs):
    lsb, hsb, full, lsb_lo, lsb_hi, hsb_lo, hsb_hi = series
    ax.fill_between(z, lsb_lo, lsb_hi, color=LSB_BAND, alpha=0.2, lw=0)
    ax.fill_between(z, hsb_lo, hsb_hi, color=HSB_BAND, alpha=0.2, lw=0)
    for zr in ref_redshifts:
        ax.axvline(zr, color=REF_LINE, lw=0.6, ls=(0, (1.5, 1.2)), zorder=1)
    for y, e, col, lw in [(lsb, errs[0], LSB_COLOR, 2.8),
                          (hsb, errs[1], HSB_COLOR, 3.0),
                          (full, errs[2], FULL_COLOR, 1.0)]:
        ax.errorbar(z, y, yerr=e, fmt='none', ecolor=col, elinewidth=0.8, zorder=3)
        sns.lineplot(x=z, y=y, ax=ax, color=col, lw=lw, estimator=None,
                     sort=False, zorder=4)


def style_axes(ax, ymax, ymin, row, col, ylabel, ymajor):
    ax.set_xscale('log')
    ax.set_xlim(8, 0.02)
    ax.set_ylim(ymin, ymax)
    ax.xaxis.set_major_locator(FixedLocator(xtick_values))
    ax.xaxis.set_minor_locator(LogLocator(base=10, subs=np.arange(2, 10)))
    ax.xaxis.set_minor_formatter(NullFormatter())
    ax.yaxis.set_major_locator(MultipleLocator(ymajor))
    ax.yaxis.set_minor_locator(MultipleLocator(0.05))
    ax.tick_params(which='both', direction='in', top=True, right=True,
                   labelsize=6.5, colors='black', labelcolor='#333333', pad=2)
    ax.tick_params(which='major', length=3.5, width=0.8)
    ax.tick_params(which='minor', length=1.8, width=0.6)
    if row == 2:
        ax.set_xticklabels(xtick_labels)
        ax.set_xlabel('redshift', fontsize=10.5, labelpad=0)
    else:
        ax.set_xticklabels([])
        ax.set_xlabel('')
    if col == 0:
        ax.set_ylabel(ylabel, fontsize=9.8, labelpad=3)
    else:
        ax.set_yticklabels([])
        ax.set_ylabel('')
    ax.text(0.055, 0.965, f"{mass_bins[row]}\n({samples[col]})", transform=ax.transAxes,
            ha='left', va='top', fontsize=6.3, color='#222222', linespacing=1.1)


def add_legend(ax):
    handles = []
    for col, lw in [(LSB_COLOR, 3.0), (HSB_COLOR, 3.0), (FULL_COLOR, 1.0)]:
        handles.append((Line2D([], [], color=col, lw=lw),
                        Line2D([], [], color=col, marker='|', ms=11, mew=0.9, ls='none')))
    leg = ax.legend(handles, legend_labels, loc='lower right', fontsize=7.5,
                    frameon=True, fancybox=False, framealpha=1, edgecolor='black',
                    handlelength=2.6, borderpad=0.5, labelspacing=0.45,
                    borderaxespad=0.4)
    leg.get_frame().set_linewidth(0.9)


fig = plt.figure(figsize=(10.11, 5.25), dpi=100)
gs_left = fig.add_gridspec(3, 3, left=0.0406, right=0.4629, top=0.8895, bottom=0.0629,
                           hspace=0.043, wspace=0)
gs_right = fig.add_gridspec(3, 3, left=0.5628, right=0.9832, top=0.8857, bottom=0.0667,
                            hspace=0.043, wspace=0)

fex_ymax = [0.42, 0.52, 0.62]
fex_label = r'$\mathregular{f_{ex-situ}}$'
mass_label = r'$\mathregular{M_{*,z}\ /\ M_{*,\,final}}$'

for i in range(9):
    row, col = divmod(i, 3)
    ax = fig.add_subplot(gs_left[row, col])
    draw_panel(ax, z_fex, fex_panels[i], (fex_err_lsb[i], fex_err_hsb[i], fex_err_full[i]))
    style_axes(ax, fex_ymax[row], 0.0, row, col, fex_label, 0.2)
    if i == 8:
        add_legend(ax)

    ax = fig.add_subplot(gs_right[row, col])
    draw_panel(ax, z_mass, mass_panels[i], (mass_err_lsb[i], mass_err_hsb[i], mass_err_full[i]))
    style_axes(ax, 1.02, -0.025, row, col, mass_label, 0.2)
    if i == 8:
        add_legend(ax)

title = r'$\mathit{The\ emergence\ of\ the\ faint\ nature\ of\ Low\ Surface\ Brightness\ Galaxies}$'
fig.text(0.359, 0.958, title, fontsize=13.5, math_fontfamily='cm', color='black')
fig.text(0.992, 0.958, '9', fontsize=13.5, math_fontfamily='cm', ha='right',
         family='DejaVu Serif')

fig.savefig('out.png', dpi=100)
